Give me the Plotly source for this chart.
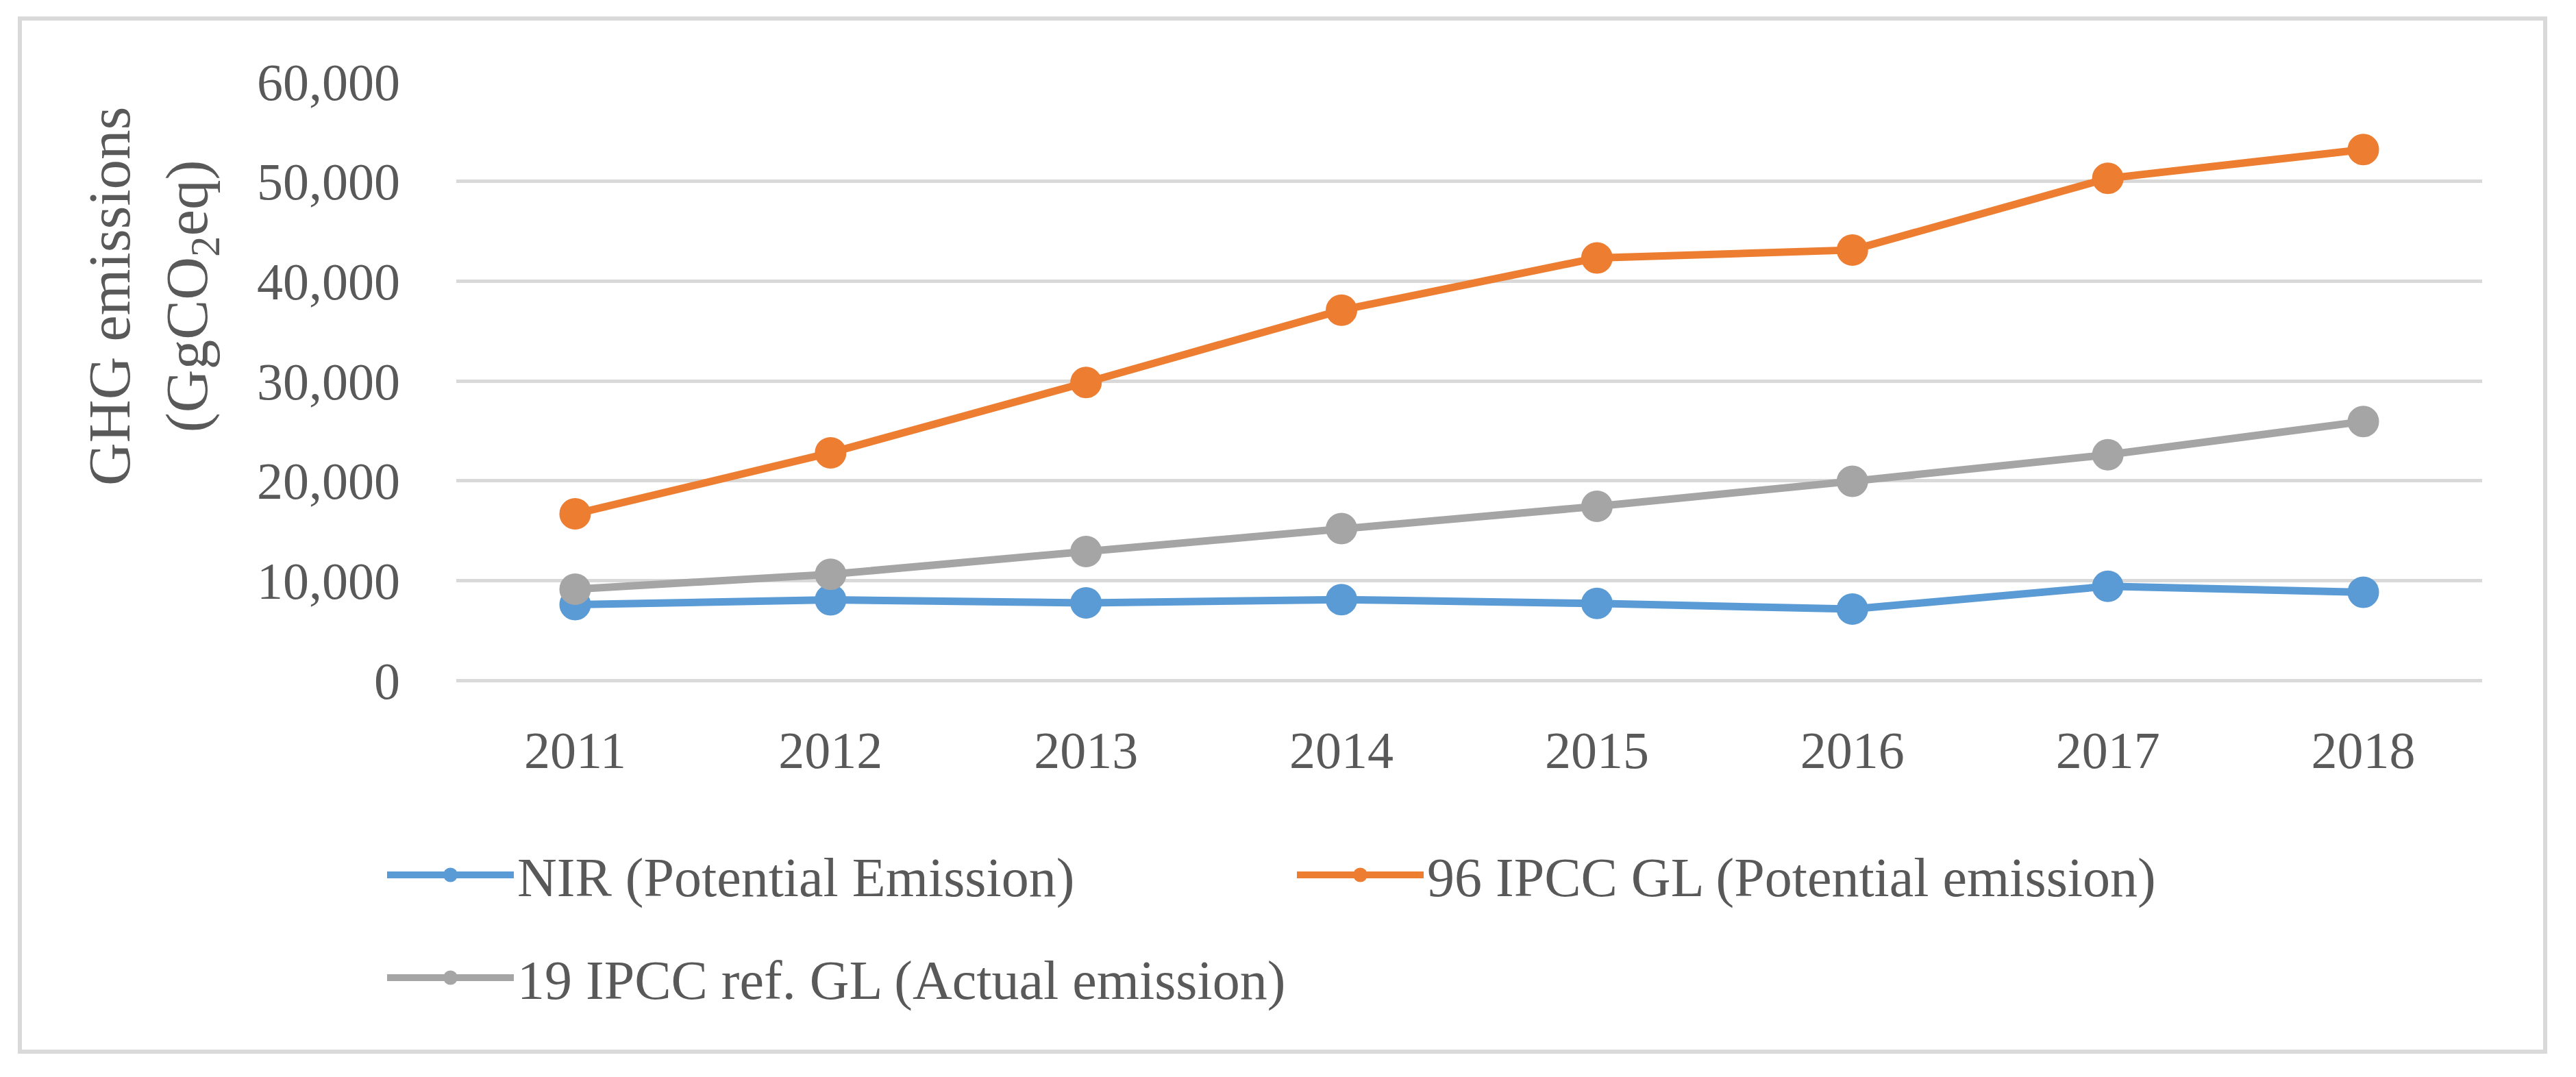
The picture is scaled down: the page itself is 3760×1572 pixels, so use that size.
import plotly.graph_objects as go

years = ["2011", "2012", "2013", "2014", "2015", "2016", "2017", "2018"]
nir_potential = [7580, 8060, 7765, 8090, 7700, 7140, 9420, 8830]
ipcc96_potential = [16680, 22800, 29850, 37090, 42330, 43120, 50300, 53190]
ipcc19_actual = [9130, 10620, 12910, 15200, 17430, 19950, 22600, 25940]

names = ["NIR (Potential Emission)", "96 IPCC GL (Potential emission)", "19 IPCC ref. GL (Actual emission)"]
colors = ["#5B9BD5", "#ED7D31", "#A5A5A5"]
legends = ["legend", "legend", "legend2"]
series = [nir_potential, ipcc96_potential, ipcc19_actual]

FONT = "Palatino Linotype, Book Antiqua, Liberation Serif, serif"
TXT = "#595959"

fig = go.Figure()
for name, col, vals, lg in zip(names, colors, series, legends):
    fig.add_trace(go.Scatter(
        x=years, y=vals, name=name, mode="lines+markers",
        line=dict(color=col, width=11),
        marker=dict(color=col, size=41, line=dict(color=col, width=5)),
        legend=lg,
    ))

OFF = 8  # default page body margin
W, H = 3760 - 2 * OFF, 1572 - 2 * OFF
# target screen coordinates of the plot area
SL, SR, ST, SB = 666, 3623, 119, 993
L, T = SL - OFF, ST - OFF
R, B = W - (SR - OFF), H - (SB - OFF)
pw, ph = W - L - R, H - T - B

def px(x):
    return (x - OFF - L) / pw

def py(y):
    return (H - B - (y - OFF)) / ph

fig.update_layout(
    width=W, height=H, autosize=False,
    margin=dict(l=L, r=R, t=T, b=B),
    paper_bgcolor="white", plot_bgcolor="white",
    font=dict(family=FONT, color=TXT, size=76),
    showlegend=True,
    legend=dict(
        orientation="h", x=px(560), xanchor="left", y=py(1277), yanchor="middle",
        font=dict(family=FONT, size=80, color=TXT),
        entrywidth=1128, entrywidthmode="pixels", itemwidth=185,
        bgcolor="rgba(0,0,0,0)", traceorder="normal",
    ),
    legend2=dict(
        orientation="h", x=px(560), xanchor="left", y=py(1427), yanchor="middle",
        font=dict(family=FONT, size=80, color=TXT),
        itemwidth=185, bgcolor="rgba(0,0,0,0)",
    ),
    xaxis=dict(
        type="category", showgrid=False, zeroline=False, showline=False,
        ticks="", ticklabelstandoff=51,
        tickfont=dict(family=FONT, size=76, color=TXT),
    ),
    yaxis=dict(
        range=[0, 60000], dtick=10000, tickformat=",",
        showgrid=True, gridcolor="#D9D9D9", gridwidth=5,
        zeroline=True, zerolinecolor="#D9D9D9", zerolinewidth=5,
        showline=False, ticks="", ticklabelstandoff=81,
        tickfont=dict(family=FONT, size=76, color=TXT),
    ),
    shapes=[dict(
        type="rect", xref="paper", yref="paper",
        x0=px(29), x1=px(3715), y0=py(1535), y1=py(27),
        line=dict(color="#D9D9D9", width=6), fillcolor="rgba(0,0,0,0)", layer="below",
    )],
    annotations=[dict(
        text="GHG emissions<br>(GgCO<sub>2</sub>eq)", textangle=-90,
        xref="paper", yref="paper", x=px(222), y=py(433),
        xanchor="center", yanchor="middle", showarrow=False,
        font=dict(family=FONT, size=87, color=TXT),
    )],
)

fig.write_html("out.html")
